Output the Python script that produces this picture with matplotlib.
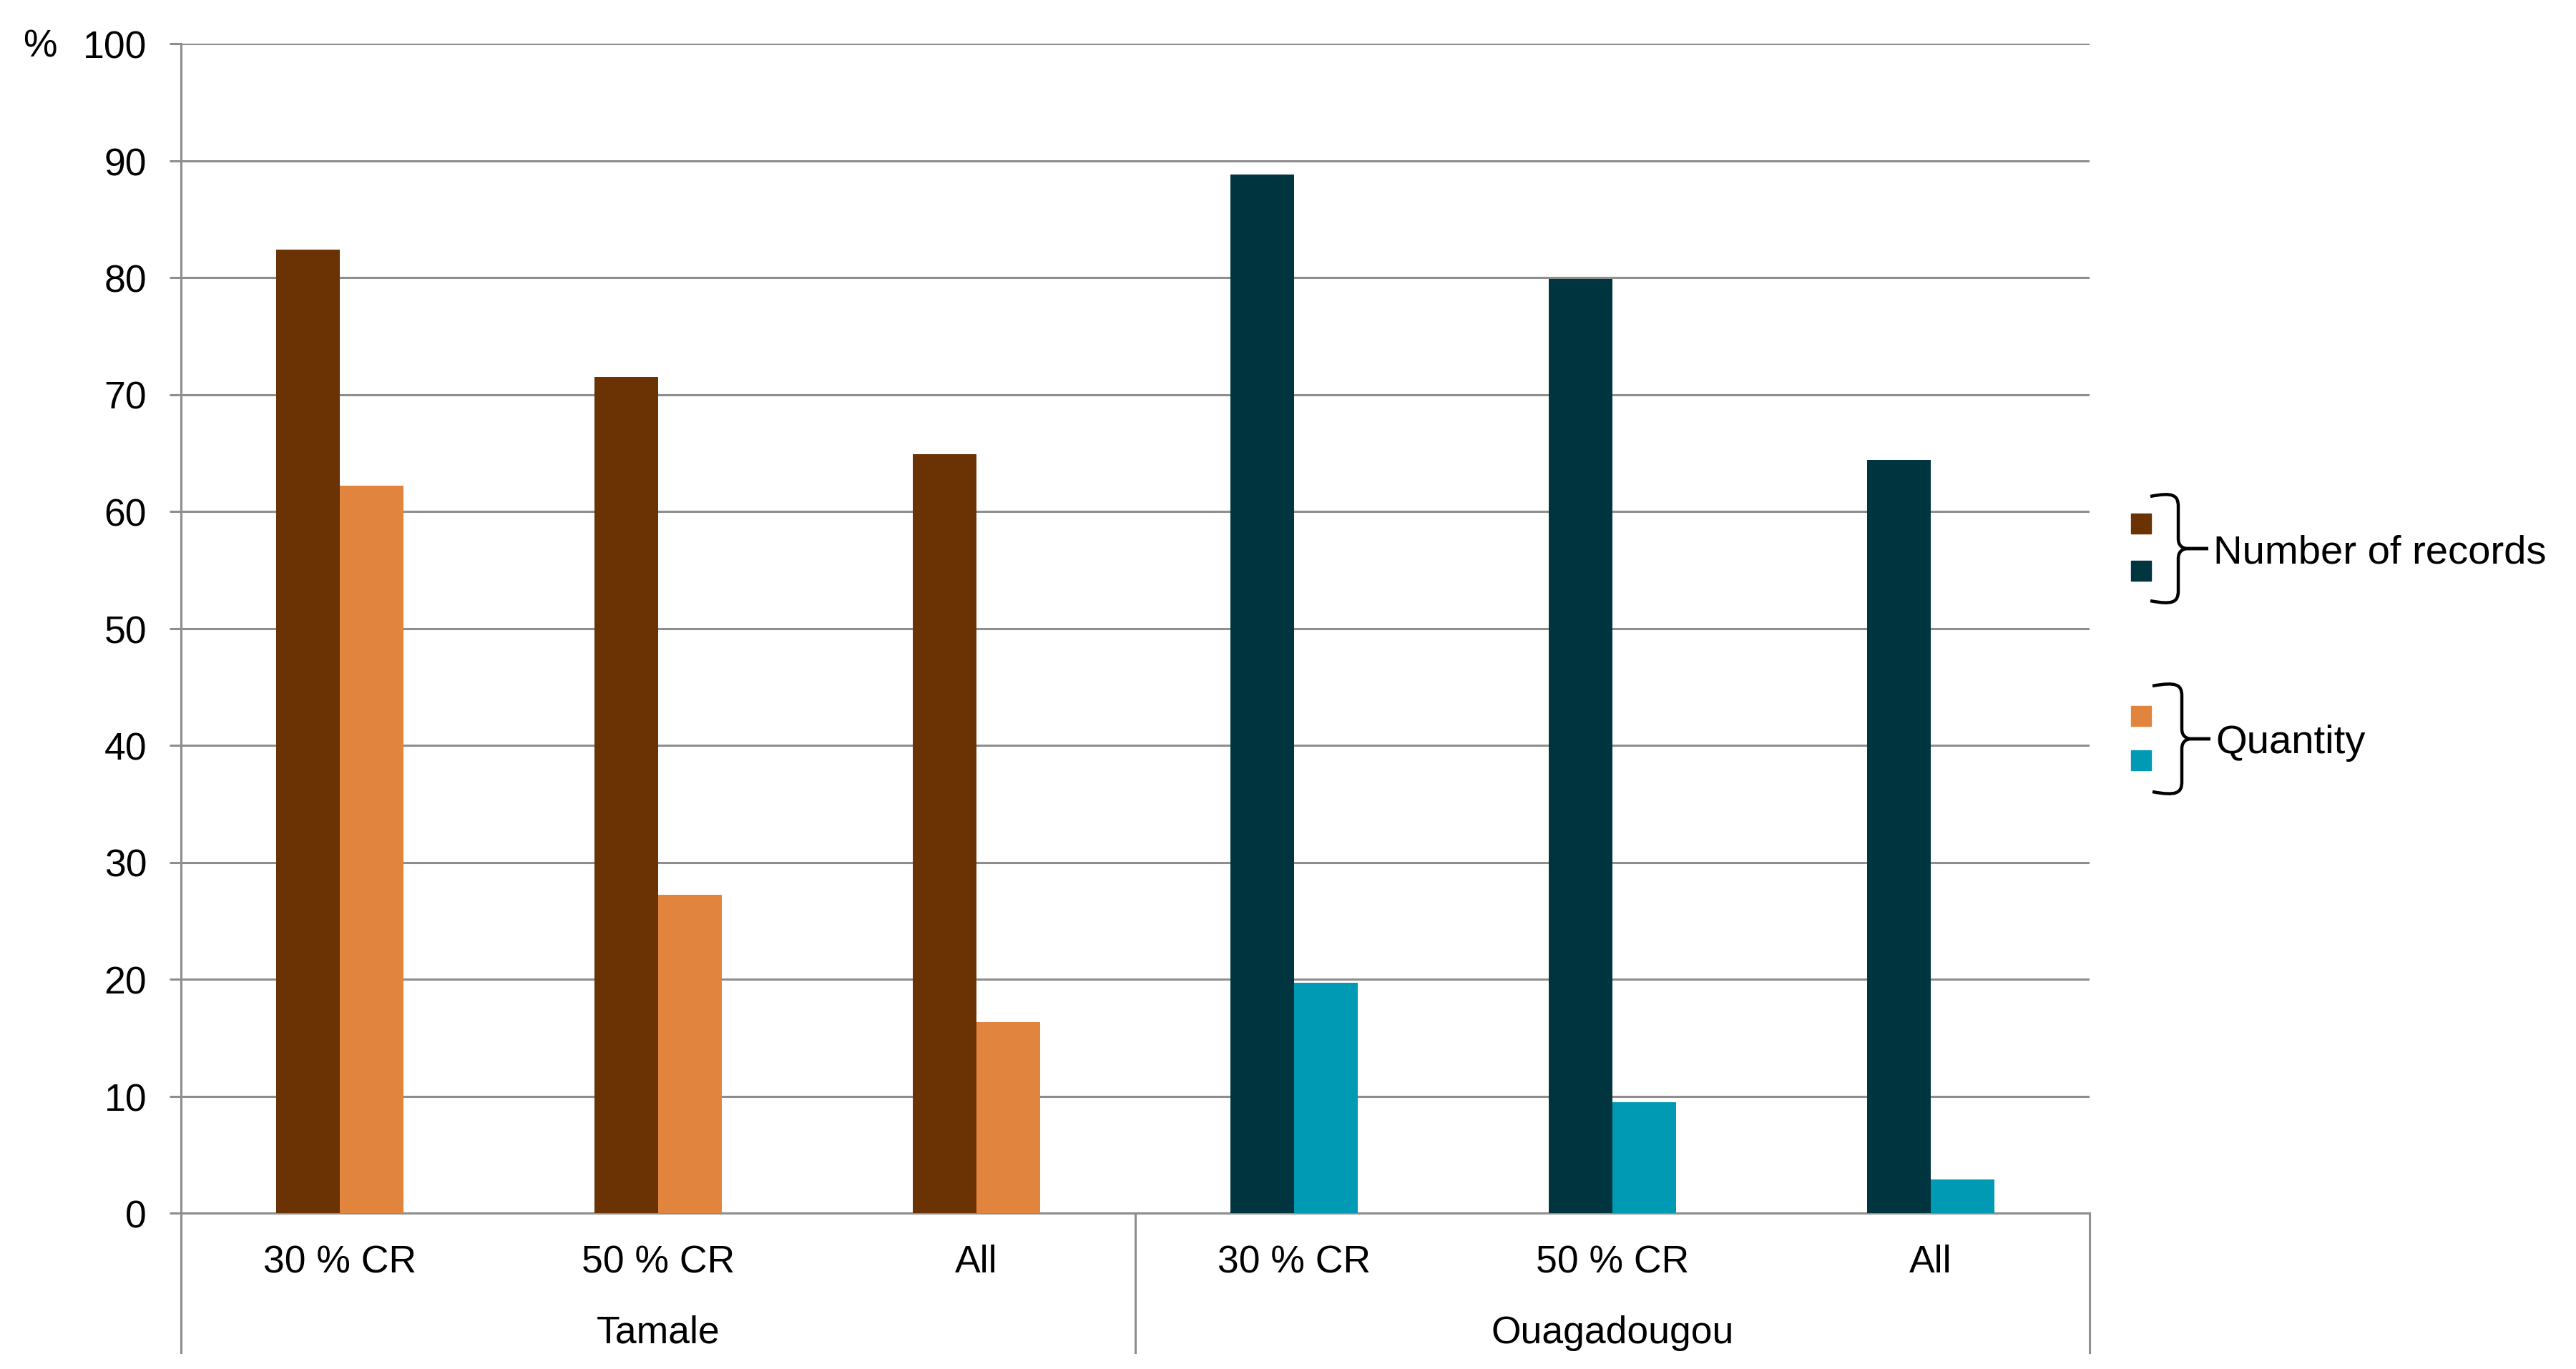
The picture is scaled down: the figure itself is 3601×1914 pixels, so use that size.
import numpy as np
import matplotlib
matplotlib.use("Agg")
import matplotlib.pyplot as plt
from matplotlib.path import Path
from matplotlib.patches import PathPatch, Rectangle
import matplotlib.transforms as mtransforms

plt.rcParams['font.family'] = ['Liberation Sans', 'DejaVu Sans']

# data (%)
cities = ["Tamale", "Ouagadougou"]
subsets = ["30 % CR", "50 % CR", "All"]
records_tamale = [82.4, 71.5, 64.9]
quantity_tamale = [62.2, 27.2, 16.3]
records_ouaga = [88.8, 79.9, 64.4]
quantity_ouaga = [19.7, 9.5, 2.9]
yticks = [0, 10, 20, 30, 40, 50, 60, 70, 80, 90, 100]

brown = "#6b3304"
orange = "#e0843e"
darkteal = "#00343f"
teal = "#009ab4"
grid_c = "#8e8e8e"

W, H = 3601, 1915
fig = plt.figure(figsize=(W / 100, H / 100), dpi=100)

def fx(px):
    return px / W

def fy(py):
    return 1 - py / H

ax = fig.add_axes([fx(253), fy(1697), fx(2921) - fx(253), fy(62) - fy(1697)])

x = np.arange(len(subsets) * len(cities))
records = records_tamale + records_ouaga
quantity = quantity_tamale + quantity_ouaga
rec_cols = [brown] * 3 + [darkteal] * 3
qty_cols = [orange] * 3 + [teal] * 3
bw = 0.2
ax.bar(x - bw / 2, records, width=bw, color=rec_cols, zorder=3)
ax.bar(x + bw / 2, quantity, width=bw, color=qty_cols, zorder=3)

ax.set_xlim(-0.5, 5.5)
ax.set_ylim(0, 100)
ax.set_yticks(yticks)
ax.yaxis.grid(True, color=grid_c, lw=2.2)
ax.set_axisbelow(True)
for s in ["top", "right"]:
    ax.spines[s].set_visible(False)
ax.spines["left"].set_color(grid_c)
ax.spines["left"].set_linewidth(2.2)
ax.spines["bottom"].set_color(grid_c)
ax.spines["bottom"].set_linewidth(2.2)
ax.tick_params(axis="y", length=11.5, width=2.2, color=grid_c, pad=23, labelsize=38.5)
ax.set_xticks(x)
ax.set_xticklabels(subsets * 2)
ax.tick_params(axis="x", length=0, pad=31, labelsize=38.5)

# group separators and city labels
trans = mtransforms.blended_transform_factory(ax.transData, ax.transAxes)
sep_bottom = (1697 - 1892) / 1635
for xs in [-0.5, 2.5, 5.5]:
    ax.plot([xs, xs], [0, sep_bottom], color=grid_c, lw=2.2, transform=trans, clip_on=False)
for i, c in enumerate(cities):
    ax.text(i * 3 + 1, (1697 - 1878) / 1635, c, transform=trans, ha="center", va="baseline",
            fontsize=38.5)

fig.text(fx(56), fy(79), "%", ha="center", va="baseline", fontsize=38.5)

# legend with braces
def brace(xl, xv, xt, yt, yb):
    ym = (yt + yb) / 2
    for sgn, y0 in [(1, yt), (-1, yb)]:
        verts = [(xl, y0 + 2 * sgn), (xv - 8, y0 - 4 * sgn), (xv, y0), (xv, y0 + 16 * sgn),
                 (xv, ym - 14 * sgn),
                 (xv, ym - 4 * sgn), (xv + 6, ym), (xv + 14, ym),
                 (xt, ym)]
        codes = [Path.MOVETO, Path.CURVE4, Path.CURVE4, Path.CURVE4, Path.LINETO,
                 Path.CURVE4, Path.CURVE4, Path.CURVE4, Path.LINETO]
        verts = [(fx(a), fy(b)) for a, b in verts]
        fig.patches.append(PathPatch(Path(verts, codes), transform=fig.transFigure,
                                     fill=False, lw=3.2, color="black", capstyle="butt"))

def square(y0, col):
    fig.patches.append(Rectangle((fx(2979), fy(y0 + 28)), fx(28), 28 / H,
                                 transform=fig.transFigure, color=col))

square(719, brown)
square(785, darkteal)
brace(3006, 3045, 3087, 693, 843)
fig.text(fx(3094), fy(788), "Number of records", ha="left", va="baseline", fontsize=40.5)

square(988, orange)
square(1050, teal)
brace(3009, 3050, 3090, 958, 1110)
fig.text(fx(3097), fy(1053), "Quantity", ha="left", va="baseline", fontsize=40.5)

fig.savefig("out.png", dpi=100, facecolor="white")
